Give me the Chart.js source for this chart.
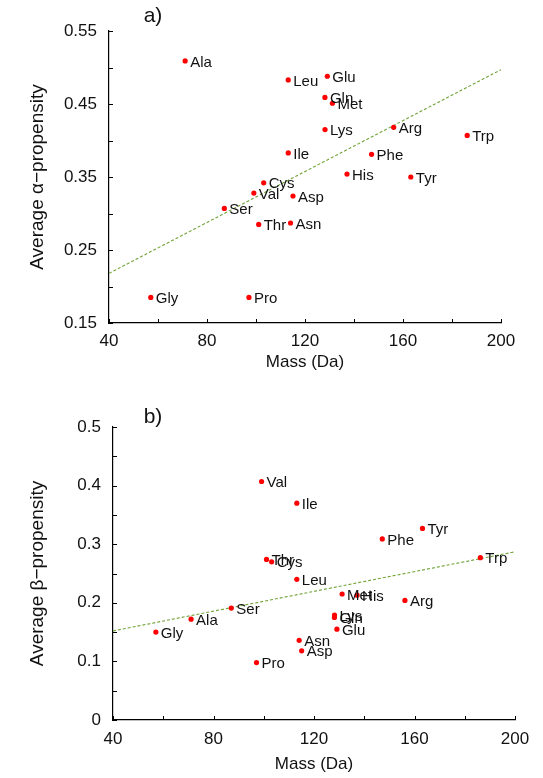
<!DOCTYPE html>
<html><head><meta charset="utf-8">
<script src="https://cdn.jsdelivr.net/npm/chart.js@4/dist/chart.umd.min.js"></script>
<style>
html,body{margin:0;padding:0;background:#fff;}
#wrap{width:543px;height:778px;position:relative;overflow:hidden;}
.box{position:absolute;left:0;width:543px;height:389px;}
canvas{display:block;}
</style></head><body>
<div id="wrap">
<div class="box" style="top:0"><canvas id="ca"></canvas></div>
<div class="box" style="top:389px"><canvas id="cb"></canvas></div>
</div>
<script>
// ---- data ----
const aminoAcids = ['Gly','Ala','Ser','Pro','Val','Thr','Cys','Leu','Ile','Asn','Asp','Gln','Lys','Glu','Met','His','Phe','Arg','Tyr','Trp'];
const massDa = [57.05,71.08,87.08,97.12,99.13,101.10,103.14,113.16,113.16,114.10,115.09,128.13,128.17,129.12,131.19,137.14,147.18,156.19,163.18,186.21];
const alphaPropensity = [0.185,0.509,0.307,0.185,0.328,0.285,0.342,0.483,0.383,0.287,0.324,0.459,0.415,0.488,0.451,0.354,0.381,0.418,0.350,0.407];
const betaPropensity = [0.150,0.172,0.191,0.098,0.407,0.274,0.270,0.240,0.370,0.136,0.118,0.175,0.179,0.155,0.215,0.213,0.309,0.204,0.327,0.277];
const trendX = [40, 200];
const alphaTrendY = [0.218, 0.497];
const betaTrendY = [0.152, 0.287];
const massTickValues = [40,60,80,100,120,140,160,180,200];
const massTickLabels = ['40','','80','','120','','160','','200'];
const alphaTickValues = [0.15,0.20,0.25,0.30,0.35,0.40,0.45,0.50,0.55];
const alphaTickLabels = ['0.15','','0.25','','0.35','','0.45','','0.55'];
const betaTickValues = [0,0.05,0.10,0.15,0.20,0.25,0.30,0.35,0.40,0.45,0.50];
const betaTickLabels = ['0','','0.1','','0.2','','0.3','','0.4','','0.5'];

const FONT = '"Liberation Sans", Arial, Helvetica, sans-serif';
Chart.defaults.font.family = FONT;
Chart.defaults.color = '#111';

const pointLabels = {
  id: 'pointLabels',
  afterDatasetsDraw(chart) {
    const ctx = chart.ctx;
    const meta = chart.getDatasetMeta(0);
    ctx.save();
    ctx.font = '15px ' + FONT;
    ctx.fillStyle = '#111';
    ctx.textBaseline = 'middle';
    ctx.textAlign = 'left';
    meta.data.forEach((el, i) => {
      ctx.fillText(aminoAcids[i], el.x + 5, el.y + 1.5);
    });
    ctx.restore();
  }
};

const inwardTicks = {
  id: 'inwardTicks',
  afterDraw(chart) {
    const ctx = chart.ctx, a = chart.chartArea;
    const xs = chart.scales.x, ys = chart.scales.y;
    ctx.save();
    ctx.strokeStyle = '#000';
    ctx.lineWidth = 1;
    ctx.beginPath();
    xs.ticks.forEach(t => {
      const px = Math.round(xs.getPixelForValue(t.value)) + 0.5;
      ctx.moveTo(px, a.bottom); ctx.lineTo(px, a.bottom - 4);
    });
    ys.ticks.forEach(t => {
      const py = Math.round(ys.getPixelForValue(t.value)) + 0.5;
      ctx.moveTo(a.left, py); ctx.lineTo(a.left + 4, py);
    });
    ctx.stroke();
    const o = chart.options.plugins.panelLabel;
    ctx.font = '21px ' + FONT;
    ctx.fillStyle = '#111';
    ctx.textAlign = 'center';
    ctx.textBaseline = 'middle';
    ctx.fillText(o.text, a.left + o.dx, a.top + o.dy);
    ctx.restore();
  }
};

function makeChart(id, yValues, trendY, yTicks, yLabels, yMin, yMax, yTitle, geo) {
  const pts = massDa.map((m, i) => ({x: m, y: yValues[i]}));
  const trend = trendX.map((x, i) => ({x: x, y: trendY[i]}));
  return new Chart(document.getElementById(id), {
    type: 'scatter',
    data: {datasets: [
      {data: pts, backgroundColor: '#ff0000', borderWidth: 0, pointRadius: 2.6, pointHoverRadius: 2.6, order: 1},
      {type: 'line', data: trend, borderColor: '#6fa335', borderWidth: 1.1, borderDash: [3, 2], pointRadius: 0, fill: false, order: 2}
    ]},
    options: {
      responsive: true, maintainAspectRatio: false, animation: false, devicePixelRatio: 1,
      layout: {padding: {left: 0, right: geo.right, top: geo.top, bottom: 0}},
      plugins: {legend: {display: false}, tooltip: {enabled: false}, panelLabel: {text: geo.panel, dx: geo.pdx, dy: geo.pdy}},
      scales: {
        x: {
          type: 'linear', min: 40, max: 200,
          afterBuildTicks: s => { s.ticks = massTickValues.map(v => ({value: v})); },
          afterFit: s => { s.height = geo.xh; },
          ticks: {autoSkip: false, maxRotation: 0, padding: geo.xpad, font: {size: 17}, color: '#111',
                  callback: (v, i) => massTickLabels[i]},
          grid: {display: false, drawTicks: false},
          border: {display: true, color: '#000', width: 1.2},
          title: {display: true, text: 'Mass (Da)', font: {size: 17}, color: '#111', padding: {top: 0, bottom: geo.xtp}}
        },
        y: {
          type: 'linear', min: yMin, max: yMax,
          afterBuildTicks: s => { s.ticks = yTicks.map(v => ({value: v})); },
          afterFit: s => { s.width = geo.yw; },
          ticks: {autoSkip: false, padding: geo.ypad, font: {size: 17}, color: '#111',
                  callback: (v, i) => yLabels[i]},
          grid: {display: false, drawTicks: false},
          border: {display: true, color: '#000', width: 1.2},
          title: {display: true, text: yTitle, font: {size: 19}, color: '#111', padding: {top: geo.ytp, bottom: 0}}
        }
      }
    },
    plugins: [pointLabels, inwardTicks]
  });
}

makeChart('ca', alphaPropensity, alphaTrendY, alphaTickValues, alphaTickLabels, 0.15, 0.55,
  'Average \u03b1\u2212propensity',
  {right: 42, top: 31, xh: 66, yw: 109, xpad: 8, ypad: 12, xtp: 16, ytp: 26, panel: 'a)', pdx: 44, pdy: -15});
makeChart('cb', betaPropensity, betaTrendY, betaTickValues, betaTickLabels, 0, 0.5,
  'Average \u03b2\u2212propensity',
  {right: 28, top: 38, xh: 58, yw: 113, xpad: 9, ypad: 12, xtp: 3, ytp: 26, panel: 'b)', pdx: 40, pdy: -10});
</script>
</body></html>
